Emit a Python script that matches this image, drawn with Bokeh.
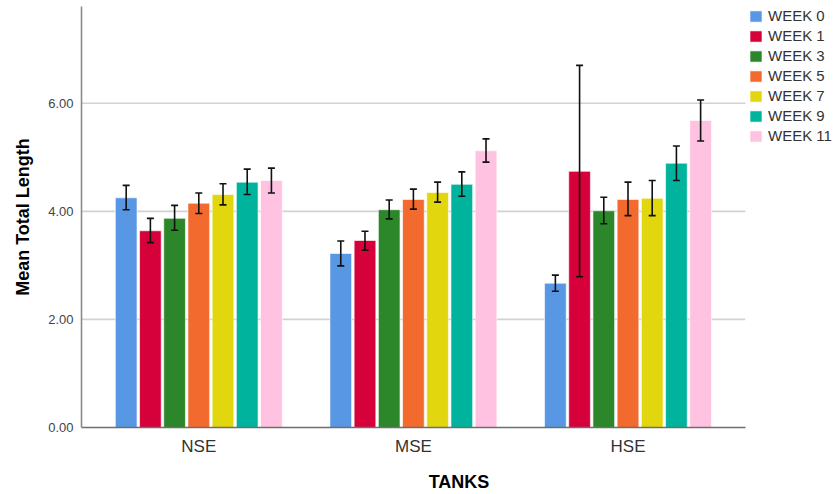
from bokeh.plotting import figure
from bokeh.models import (Range1d, ColumnDataSource, Whisker, TeeHead,
                          FixedTicker, PrintfTickFormatter, Legend, LegendItem)
from bokeh.transform import dodge
from bokeh.embed import file_html
from bokeh.resources import INLINE

tanks = ["NSE", "MSE", "HSE"]
weeks = ["WEEK 0", "WEEK 1", "WEEK 3", "WEEK 5", "WEEK 7", "WEEK 9", "WEEK 11"]
colors = ["#5797e4", "#d6003a", "#2c872b", "#f26a2d", "#e2d60f", "#00b39c", "#ffc2e0"]

mean_w0 = [4.25, 3.22, 2.67]
mean_w1 = [3.64, 3.46, 4.74]
mean_w3 = [3.87, 4.03, 4.01]
mean_w5 = [4.15, 4.22, 4.22]
mean_w7 = [4.31, 4.35, 4.24]
mean_w9 = [4.54, 4.50, 4.89]
mean_w11 = [4.57, 5.12, 5.68]

upper_w0 = [4.48, 3.45, 2.82]
upper_w1 = [3.87, 3.63, 6.70]
upper_w3 = [4.11, 4.21, 4.26]
upper_w5 = [4.34, 4.41, 4.54]
upper_w7 = [4.51, 4.54, 4.57]
upper_w9 = [4.78, 4.73, 5.21]
upper_w11 = [4.80, 5.34, 6.06]

lower_w0 = [4.03, 2.99, 2.52]
lower_w1 = [3.42, 3.28, 2.79]
lower_w3 = [3.65, 3.86, 3.77]
lower_w5 = [3.96, 4.04, 3.92]
lower_w7 = [4.12, 4.17, 3.92]
lower_w9 = [4.31, 4.28, 4.57]
lower_w11 = [4.34, 4.91, 5.30]

y_ticks = [0, 2, 4, 6]

means = [mean_w0, mean_w1, mean_w3, mean_w5, mean_w7, mean_w9, mean_w11]
uppers = [upper_w0, upper_w1, upper_w3, upper_w5, upper_w7, upper_w9, upper_w11]
lowers = [lower_w0, lower_w1, lower_w3, lower_w5, lower_w7, lower_w9, lower_w11]

FONT = "Liberation Sans"

# category slots: each tank occupies one unit, centred at i + 0.5
xpos = [i + 0.5 for i in range(len(tanks))]
pad = 0.0466
x_start = -pad
axis_end = len(tanks) + pad          # where the axis / grid stop (legend sits to the right)
x_end = 3.4716                       # frame extends under the legend

p = figure(width=836, height=494, output_backend="svg", toolbar_location=None,
           x_range=Range1d(x_start, x_end), y_range=Range1d(0, 7.79),
           min_border_left=81, min_border_right=0, min_border_top=6, min_border_bottom=60)

p.title.visible = False
p.outline_line_color = None
p.background_fill_color = "white"
p.xgrid.grid_line_color = None
p.ygrid.grid_line_color = None

# horizontal grid lines that stop at the end of the category axis
grid_y = [t for t in y_ticks if t > 0]
grid_src = ColumnDataSource(dict(y=grid_y, x0=[x_start] * len(grid_y), x1=[axis_end] * len(grid_y)))
p.segment(x0="x0", x1="x1", y0="y", y1="y", source=grid_src, line_color="#d2d2d2",
          line_width=1.6, level="underlay")

pitch = 0.1128
bw = 0.101
items = []
for k, (wk, col, m, up, lo) in enumerate(zip(weeks, colors, means, uppers, lowers)):
    src = ColumnDataSource(dict(x=xpos, tank=tanks, mean=m, upper=up, lower=lo))
    off = (k - 3) * pitch
    r = p.vbar(x=dodge("x", off), top="mean", width=bw, source=src,
               fill_color=col, line_color="#ffffff", line_width=1, line_alpha=0.6)
    w = Whisker(base=dodge("x", off), upper="upper", lower="lower", source=src,
                level="overlay", line_color="#111111", line_width=1.6,
                upper_head=TeeHead(size=7, line_color="#111111", line_width=1.6),
                lower_head=TeeHead(size=7, line_color="#111111", line_width=1.6))
    p.add_layout(w)
    items.append(LegendItem(label=wk, renderers=[r]))

legend = Legend(items=items, location=(667, 283), padding=0, margin=0,
                glyph_width=15, glyph_height=14, label_height=14, spacing=3,
                label_standoff=5, label_text_font=FONT, label_text_font_size="15px",
                label_text_color="#333333", border_line_color=None,
                background_fill_alpha=0)
p.add_layout(legend)

# y axis
p.yaxis.ticker = FixedTicker(ticks=y_ticks)
p.yaxis.formatter = PrintfTickFormatter(format="%.2f")
p.yaxis.axis_label = "Mean Total Length"
p.yaxis.axis_label_text_font = FONT
p.yaxis.axis_label_text_font_style = "bold"
p.yaxis.axis_label_text_font_size = "18px"
p.yaxis.axis_label_text_color = "#000000"
p.yaxis.axis_label_standoff = 12
p.yaxis.major_label_text_font = FONT
p.yaxis.major_label_text_font_size = "13px"
p.yaxis.major_label_text_color = "#444444"
p.yaxis.major_label_standoff = 8
p.yaxis.major_tick_line_color = None
p.yaxis.major_tick_out = 0
p.yaxis.major_tick_in = 0
p.yaxis.minor_tick_line_color = None
p.yaxis.axis_line_color = "#8a8a8a"
p.yaxis.axis_line_width = 1.6

# x axis (categorical labels at slot centres)
p.xaxis.ticker = FixedTicker(ticks=xpos)
p.xaxis.major_label_overrides = {x: t for x, t in zip(xpos, tanks)}
p.xaxis.bounds = (x_start, axis_end)
p.xaxis.minor_tick_line_color = None
p.xaxis.axis_label = "TANKS"
p.xaxis.axis_label_text_font = FONT
p.xaxis.axis_label_text_font_style = "bold"
p.xaxis.axis_label_text_font_size = "18px"
p.xaxis.axis_label_text_color = "#000000"
p.xaxis.axis_label_standoff = 13
p.xaxis.major_label_text_font = FONT
p.xaxis.major_label_text_font_size = "17px"
p.xaxis.major_label_text_color = "#333333"
p.xaxis.major_label_standoff = 9
p.xaxis.major_tick_line_color = None
p.xaxis.major_tick_out = 0
p.xaxis.major_tick_in = 0
p.xaxis.axis_line_color = "#6e6e6e"
p.xaxis.axis_line_width = 1.6

open("out.html", "w").write(file_html(p, INLINE))
